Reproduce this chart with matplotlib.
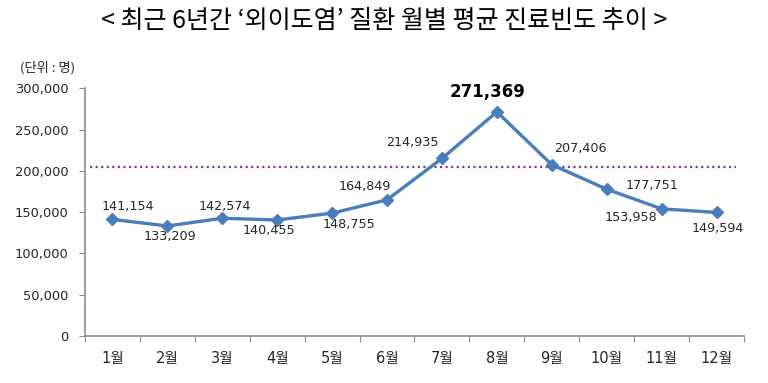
import numpy as np
import matplotlib
matplotlib.use('Agg')
import matplotlib.pyplot as plt

plt.rcParams['font.family'] = ['DejaVu Sans', 'Noto Sans CJK KR']

months = ["1월", "2월", "3월", "4월", "5월", "6월", "7월", "8월", "9월", "10월", "11월", "12월"]
visits = [141154, 133209, 142574, 140455, 148755, 164849, 214935, 271369, 207406, 177751, 153958, 149594]
ref_level = 205000
y_ticks = [0, 50000, 100000, 150000, 200000, 250000, 300000]

# label offsets in pixels (dx, dy)
label_offsets = [(15, 13), (2, -11), (3, 12), (-8, -11), (17, -11), (-22, 13),
                 (-30, 16), (-9, 20), (29, 16), (45, 4), (-31, -9), (1, -16)]

line_color = "#4A7EBB"
axis_color = "#8C8C8C"
text_color = "#262626"

fig = plt.figure(figsize=(7.68, 3.83), dpi=100)
ax = fig.add_axes([0.1107, 0.1227, 0.858, 0.647])

x = np.arange(len(months))
ax.axhline(ref_level, xmin=0.008, xmax=0.988, color="#7B3FA0", linestyle=(0, (1, 1.5)),
           linewidth=1.6)
ax.plot(x, visits, color=line_color, linewidth=2.4, marker="D", markersize=6,
        markerfacecolor=line_color, markeredgecolor=line_color, zorder=3)

for i, v in enumerate(visits):
    dx, dy = label_offsets[i]
    if v == max(visits):
        ax.annotate(f"{v:,}", (x[i], v), xytext=(dx * 0.72, dy * 0.72),
                    textcoords="offset points", ha="center", va="center",
                    fontsize=12, fontweight="bold", color="black")
    else:
        ax.annotate(f"{v:,}", (x[i], v), xytext=(dx * 0.72, dy * 0.72),
                    textcoords="offset points", ha="center", va="center",
                    fontsize=9.2, color=text_color)

ax.set_xlim(-0.5, len(months) - 0.5)
ax.set_ylim(0, 300000)
ax.set_yticks(y_ticks)
ax.set_yticklabels([f"{t:,}" for t in y_ticks], fontsize=9.4, color=text_color)

ax.set_xticks(np.arange(-0.5, len(months)), labels=[""] * (len(months) + 1))
ax.set_xticks(x, labels=months, minor=True)
ax.tick_params(axis="x", which="minor", length=0, pad=11, labelsize=10.5,
               labelcolor=text_color)
ax.tick_params(axis="x", which="major", length=4, color=axis_color, direction="out")
ax.tick_params(axis="y", length=4, color=axis_color, direction="out", pad=8)

for side in ["top", "right"]:
    ax.spines[side].set_visible(False)
for side in ["left", "bottom"]:
    ax.spines[side].set_color(axis_color)
    ax.spines[side].set_linewidth(1.2)

fig.text(0.5, 0.945, "< 최근 6년간 ‘외이도염’ 질환 월별 평균 진료빈도 추이 >",
         ha="center", va="center", fontsize=18, color="black",
         family=["Noto Sans CJK KR", "DejaVu Sans"])
fig.text(0.026, 0.822, "(단위 : 명)", ha="left", va="center", fontsize=9.5,
         color=text_color, family=["Noto Sans CJK KR", "DejaVu Sans"])

fig.savefig("out.png", dpi=100, facecolor="white")
plt.close()
